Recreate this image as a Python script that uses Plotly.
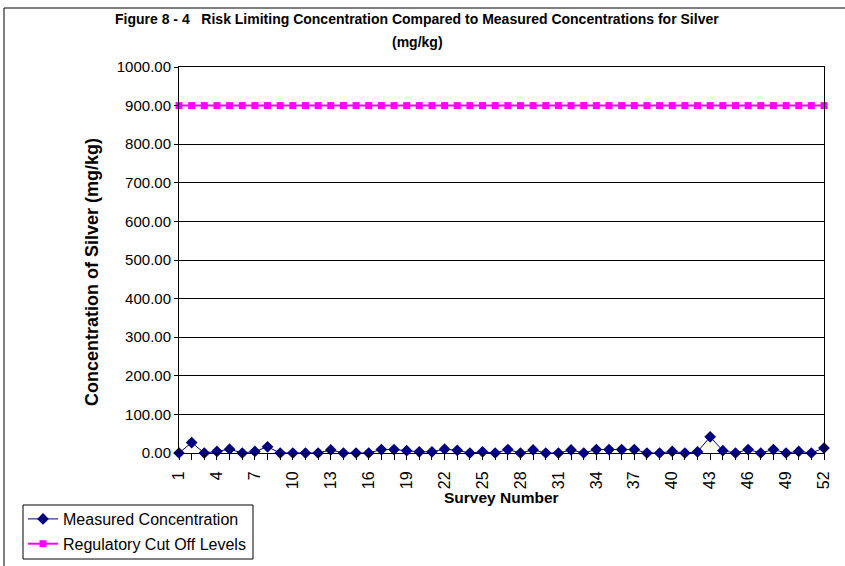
import plotly.graph_objects as go

survey = list(range(1, 53))
measured = [0, 27, 0, 4, 10, 0, 4, 16, 0, 0, 0, 0, 8, 0, 0, 0, 9, 9, 6, 3,
            3, 10, 7, 0, 3, 0, 9, 0, 8, 0, 0, 8, 0, 9, 9, 9, 9, 0, 0, 4,
            0, 3, 42, 6, 0, 9, 0, 9, 0, 4, 0, 13]
cutoff = [900] * 52
x_tickvals = list(range(1, 53, 3))
y_tickvals = list(range(0, 1001, 100))
y_ticktext = [f"{v:.2f}" for v in y_tickvals]

W, H = 845, 566
L, R, T, B = 179, 824, 67, 453
pw, ph = R - L, B - T

def px(x):
    return (x - L) / pw

def py(y):
    return (B - y) / ph

FONT = "Liberation Sans, Arial, sans-serif"

fig = go.Figure()
fig.add_trace(go.Scatter(
    x=survey, y=measured, name="Measured Concentration", mode="lines+markers",
    line=dict(color="#000080", width=1),
    marker=dict(symbol="diamond", size=9, color="#000080"),
    cliponaxis=False, legendgroup="a"))
fig.add_trace(go.Scatter(
    x=survey, y=cutoff, name="Regulatory Cut Off Levels", mode="lines+markers",
    line=dict(color="#FF00FF", width=2),
    marker=dict(symbol="square", size=7, color="#FF00FF"),
    cliponaxis=False, legendgroup="b"))

fig.update_layout(
    width=W, height=H,
    margin=dict(l=L, r=W - R, t=T, b=H - B, pad=0, autoexpand=False),
    paper_bgcolor="white", plot_bgcolor="white",
    font=dict(family=FONT, size=15, color="black"),
    showlegend=True,
    legend=dict(x=px(23), y=py(502), xanchor="left", yanchor="top",
                borderwidth=0, bgcolor="rgba(0,0,0,0)",
                font=dict(size=16), traceorder="grouped", tracegroupgap=1),
)
fig.update_xaxes(
    range=[1, 52], tickmode="array", tickvals=x_tickvals,
    ticktext=[str(v) for v in x_tickvals], tickangle=-90,
    ticks="outside", ticklen=6, tickcolor="black", tickfont=dict(size=16),
    ticklabelstandoff=5,
    minor=dict(ticks="outside", dtick=1, tick0=1, ticklen=6, tickcolor="black"),
    showline=True, linecolor="black", linewidth=1, mirror=True,
    showgrid=False, zeroline=False, automargin=False,
)
fig.update_yaxes(
    range=[0, 1000], tickmode="array", tickvals=y_tickvals, ticktext=y_ticktext,
    ticks="outside", ticklen=4, tickcolor="black", tickfont=dict(size=15),
    showline=True, linecolor="black", linewidth=1, mirror=True,
    showgrid=True, gridcolor="black", gridwidth=1, zeroline=False, automargin=False,
)

fig.add_annotation(text="<b>Figure 8 - 4   Risk Limiting Concentration Compared to Measured Concentrations for Silver</b>",
                   x=px(417), y=py(19), xref="paper", yref="paper", showarrow=False,
                   font=dict(size=14), xanchor="center", yanchor="middle")
fig.add_annotation(text="<b>(mg/kg)</b>",
                   x=px(417), y=py(42), xref="paper", yref="paper", showarrow=False,
                   font=dict(size=14), xanchor="center", yanchor="middle")
fig.add_annotation(text="<b>Concentration of Silver (mg/kg)</b>",
                   x=px(92), y=py(272), xref="paper", yref="paper", showarrow=False,
                   textangle=-90, font=dict(size=18), xanchor="center", yanchor="middle")
fig.add_annotation(text="<b>Survey Number</b>",
                   x=px(501), y=py(497), xref="paper", yref="paper", showarrow=False,
                   font=dict(size=15.5), xanchor="center", yanchor="middle")

# legend border
fig.add_shape(type="rect", xref="paper", yref="paper", x0=px(23), x1=px(253),
              y0=py(559), y1=py(505), line=dict(color="black", width=1),
              fillcolor="rgba(0,0,0,0)", layer="below")

# chart-area border (left and top edges visible)
fig.add_shape(type="line", xref="paper", yref="paper", x0=px(4), x1=px(4),
              y0=py(H + 10), y1=py(8), line=dict(color="black", width=1))
fig.add_shape(type="line", xref="paper", yref="paper", x0=px(4), x1=px(W + 10),
              y0=py(8), y1=py(8), line=dict(color="black", width=1))

fig.write_html("out.html")
